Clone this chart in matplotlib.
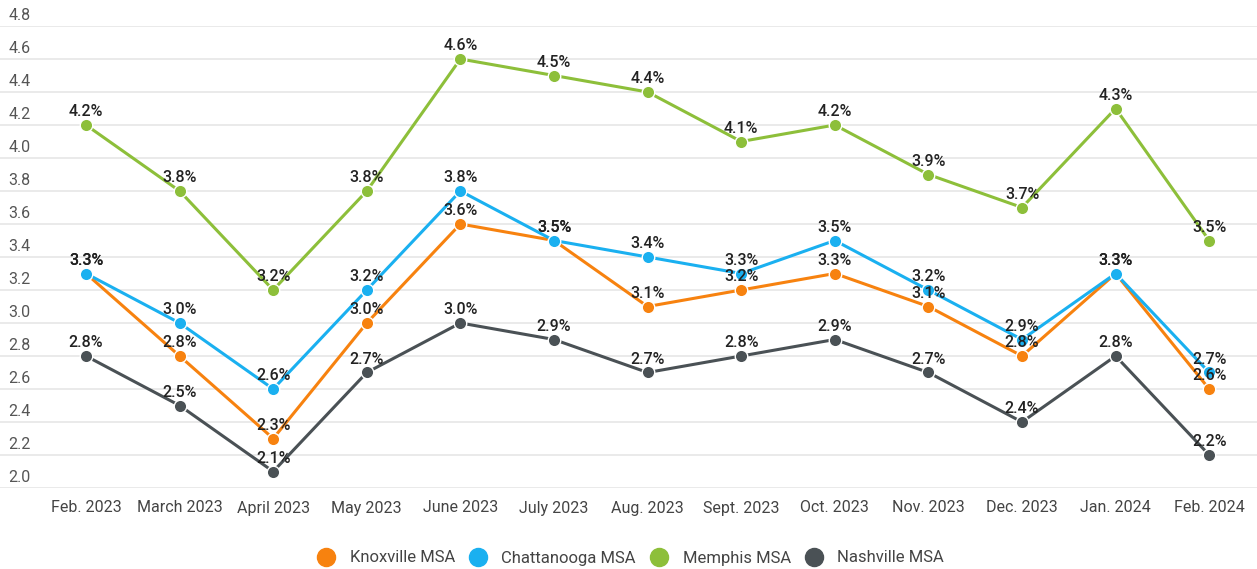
import matplotlib
matplotlib.use("Agg")
import matplotlib.pyplot as plt
from matplotlib.lines import Line2D

plt.rcParams['font.family'] = ['Roboto', 'DejaVu Sans']

months = ["Feb. 2023", "March 2023", "April 2023", "May 2023", "June 2023", "July 2023",
          "Aug. 2023", "Sept. 2023", "Oct. 2023", "Nov. 2023", "Dec. 2023", "Jan. 2024", "Feb. 2024"]
knoxville = [3.3, 2.8, 2.3, 3.0, 3.6, 3.5, 3.1, 3.2, 3.3, 3.1, 2.8, 3.3, 2.6]
chattanooga = [3.3, 3.0, 2.6, 3.2, 3.8, 3.5, 3.4, 3.3, 3.5, 3.2, 2.9, 3.3, 2.7]
memphis = [4.2, 3.8, 3.2, 3.8, 4.6, 4.5, 4.4, 4.1, 4.2, 3.9, 3.7, 4.3, 3.5]
nashville = [2.8, 2.5, 2.1, 2.7, 3.0, 2.9, 2.7, 2.8, 2.9, 2.7, 2.4, 2.8, 2.2]
series_names = ["Knoxville MSA", "Chattanooga MSA", "Memphis MSA", "Nashville MSA"]
yticks = [2.0, 2.2, 2.4, 2.6, 2.8, 3.0, 3.2, 3.4, 3.6, 3.8, 4.0, 4.2, 4.4, 4.6, 4.8]

colors = ["#F7820F", "#1AB0F0", "#8DBF3A", "#4A5155"]
series = [knoxville, chattanooga, memphis, nashville]

W, H = 1257, 569
fig = plt.figure(figsize=(W / 100, H / 100), dpi=100)
ax = fig.add_axes([0, 1 - 488 / H, 1, (488 - 26) / H])

x = list(range(len(months)))
step = 93.6
ax.set_xlim(-86 / step, (W - 86) / step)
ax.set_ylim(2.0, 4.8)

for yv in yticks:
    ax.axhline(yv, color="#E6E6E6", lw=1.2, zorder=0)
    ax.annotate(f"{yv:.1f}", xy=(0, yv), xycoords=("axes fraction", "data"),
                xytext=(6, 2), textcoords="offset points", ha="left", va="bottom",
                fontsize=11.5, color="#555555")

for vals, c in zip(series, colors):
    ax.plot(x, vals, color=c, lw=2.2, marker="o", ms=9, markeredgecolor="white",
            markeredgewidth=1.0, zorder=3, solid_joinstyle="round")

for vals in series:
    for xi, v in zip(x, vals):
        ax.annotate(f"{v:.1f}%", xy=(xi, v), xytext=(0, 4), textcoords="offset points",
                    ha="center", va="bottom", fontsize=11.5, color="#222222",
                    fontweight="medium", zorder=5)

for xi, m in zip(x, months):
    ax.annotate(m, xy=(xi, 2.0), xytext=(0, -9), textcoords="offset points",
                ha="center", va="top", fontsize=11.5, color="#444444")

for sp in ax.spines.values():
    sp.set_visible(False)
ax.set_xticks([])
ax.set_yticks([])

handles = [Line2D([0], [0], marker="o", color="none", markerfacecolor=c, markeredgecolor=c,
                  markersize=13, label=n) for c, n in zip(colors, series_names)]
fig.legend(handles=handles, loc="center", bbox_to_anchor=(631 / W, 1 - 558 / H), ncol=4,
           frameon=False, fontsize=12, handletextpad=0.9, columnspacing=0.9,
           labelcolor="#444444", handlelength=1.0)

fig.savefig("out.png", dpi=100, facecolor="white")
